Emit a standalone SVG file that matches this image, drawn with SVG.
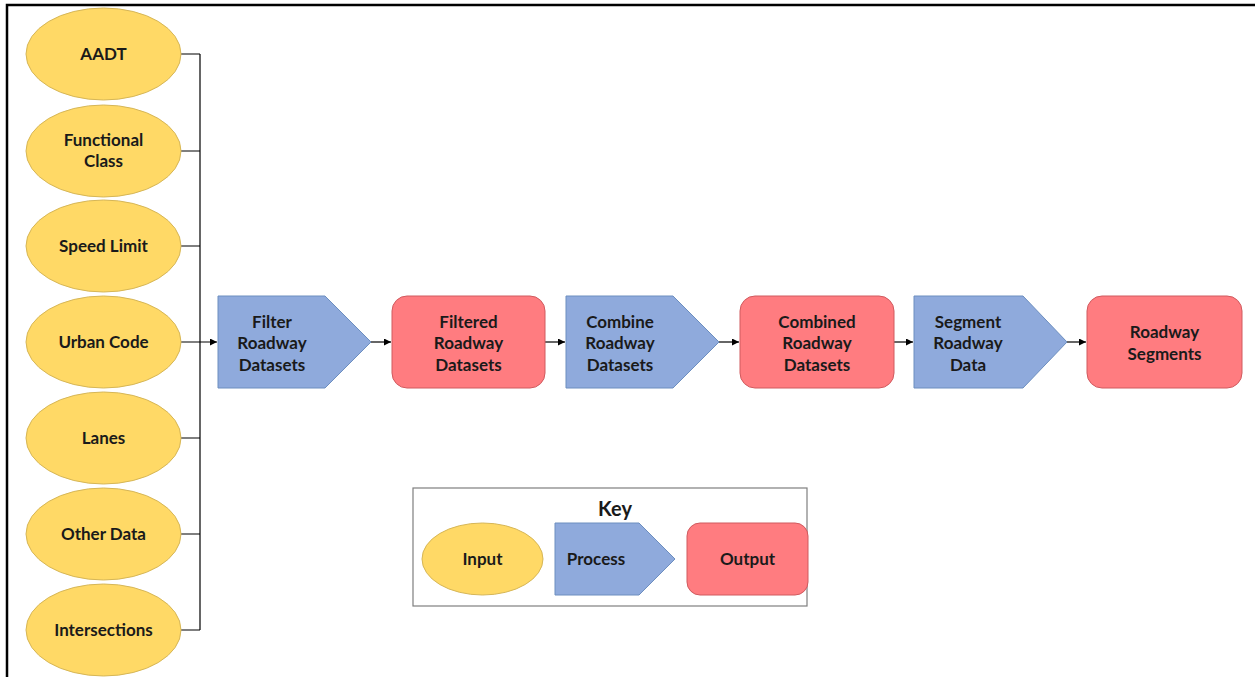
<svg xmlns="http://www.w3.org/2000/svg" width="1255" height="677" viewBox="0 0 1255 677">
<style>
.in{fill:#FFD966;stroke:#D6B656;stroke-width:1}
.pr{fill:#8FAADC;stroke:#6C8EBF;stroke-width:1}
.out{fill:#FF7C80;stroke:#D05A5E;stroke-width:1}
.t{font-family:Lato,"Liberation Sans",sans-serif;font-weight:bold;font-size:17px;fill:#1a1a1a;text-anchor:middle}
.c{fill:none;stroke:#000;stroke-width:1.2}
</style>
<defs>
<marker id="ah" viewBox="0 0 10 10" refX="10" refY="5" markerWidth="7" markerHeight="7" markerUnits="userSpaceOnUse" orient="auto">
<path d="M0,0 L10,5 L0,10 z" fill="#000"/>
</marker>
</defs>
<rect width="1255" height="677" fill="#fff"/>
<path d="M7,677 L7,5 L1255,5" fill="none" stroke="#000" stroke-width="2.5"/>
<g id="connectors">
<path class="c" d="M181,54 H200 M181,151 H200 M181,246 H200 M181,438 H200 M181,534 H200 M181,630 H200 M200,54 V630"/>
<path class="c" d="M181,342 H217" marker-end="url(#ah)"/>
<path class="c" d="M371,342 H391" marker-end="url(#ah)"/>
<path class="c" d="M545,342 H565" marker-end="url(#ah)"/>
<path class="c" d="M719,342 H739" marker-end="url(#ah)"/>
<path class="c" d="M894,342 H913" marker-end="url(#ah)"/>
<path class="c" d="M1067,342 H1086" marker-end="url(#ah)"/>
</g>
<g id="aadt"><ellipse class="in" cx="103.5" cy="54" rx="77.5" ry="46"/><text class="t" x="103.5" y="60">AADT</text></g>
<g id="functional-class"><ellipse class="in" cx="103.5" cy="151" rx="77.5" ry="46"/><text class="t" x="103.5" y="146">Functional</text><text class="t" x="103.5" y="167">Class</text></g>
<g id="speed-limit"><ellipse class="in" cx="103.5" cy="246" rx="77.5" ry="46"/><text class="t" x="103.5" y="252">Speed Limit</text></g>
<g id="urban-code"><ellipse class="in" cx="103.5" cy="342" rx="77.5" ry="46"/><text class="t" x="103.5" y="348">Urban Code</text></g>
<g id="lanes"><ellipse class="in" cx="103.5" cy="438" rx="77.5" ry="46"/><text class="t" x="103.5" y="444">Lanes</text></g>
<g id="other-data"><ellipse class="in" cx="103.5" cy="534" rx="77.5" ry="46"/><text class="t" x="103.5" y="540">Other Data</text></g>
<g id="intersections"><ellipse class="in" cx="103.5" cy="630" rx="77.5" ry="46"/><text class="t" x="103.5" y="636">Intersections</text></g>
<g id="filter"><path class="pr" d="M218,296 H325 L371,342 L325,388 H218 Z"/><text class="t" x="272" y="328">Filter</text><text class="t" x="272" y="349">Roadway</text><text class="t" x="272" y="371">Datasets</text></g>
<g id="filtered"><rect class="out" x="392" y="296" width="153" height="92" rx="15"/><text class="t" x="468.5" y="328">Filtered</text><text class="t" x="468.5" y="349">Roadway</text><text class="t" x="468.5" y="371">Datasets</text></g>
<g id="combine"><path class="pr" d="M566,296 H673 L719,342 L673,388 H566 Z"/><text class="t" x="620" y="328">Combine</text><text class="t" x="620" y="349">Roadway</text><text class="t" x="620" y="371">Datasets</text></g>
<g id="combined"><rect class="out" x="740" y="296" width="154" height="92" rx="15"/><text class="t" x="817" y="328">Combined</text><text class="t" x="817" y="349">Roadway</text><text class="t" x="817" y="371">Datasets</text></g>
<g id="segment"><path class="pr" d="M914,296 H1023 L1067,342 L1023,388 H914 Z"/><text class="t" x="968" y="328">Segment</text><text class="t" x="968" y="349">Roadway</text><text class="t" x="968" y="371">Data</text></g>
<g id="segments"><rect class="out" x="1087" y="296" width="155" height="92" rx="15"/><text class="t" x="1164.5" y="338">Roadway</text><text class="t" x="1164.5" y="360">Segments</text></g>
<g id="key">
<rect x="413" y="488" width="394" height="118" fill="#fff" stroke="#7f7f7f" stroke-width="1.2"/>
<text class="t" x="615" y="516" style="font-size:20px">Key</text>
<ellipse class="in" cx="482.5" cy="559" rx="60.5" ry="36"/><text class="t" x="482.5" y="565">Input</text>
<path class="pr" d="M555,523 H639 L675,559 L639,595 H555 Z"/><text class="t" x="596" y="565">Process</text>
<rect class="out" x="687" y="523" width="121" height="72" rx="13"/><text class="t" x="747.5" y="565">Output</text>
</g>
</svg>
